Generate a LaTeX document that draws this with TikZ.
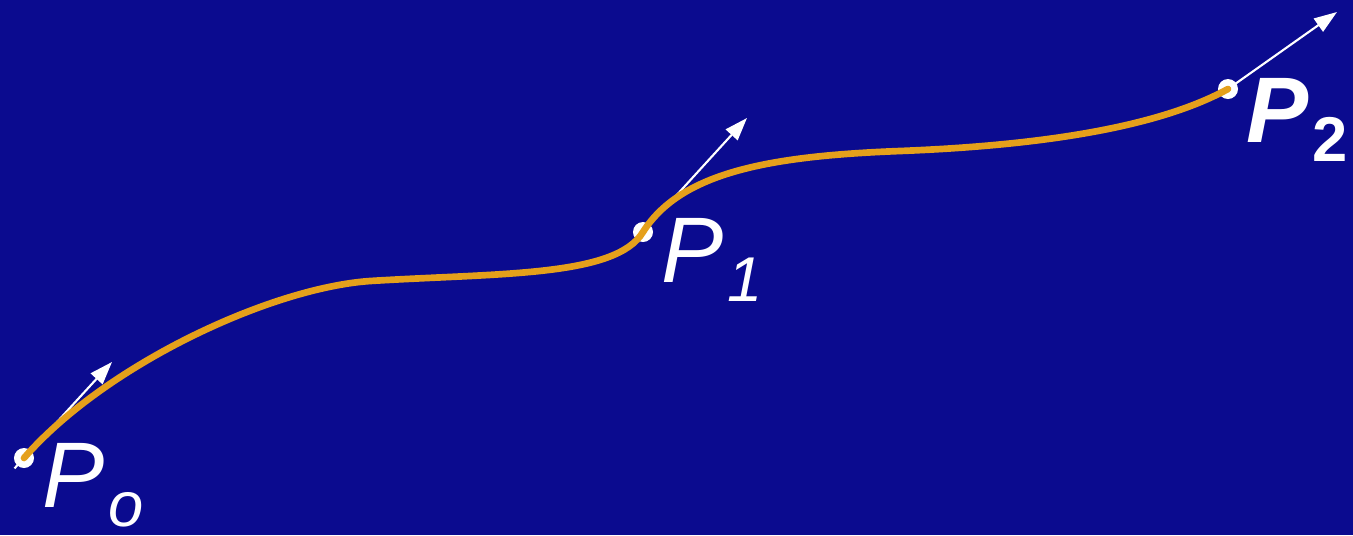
\documentclass[tikz,border=0pt]{standalone}
\usepackage{fontspec}
\setmainfont{Liberation Sans}
\usepackage{tikz}
\usepackage{xcolor}
\usetikzlibrary{arrows.meta,positioning}

\definecolor{bgblue}{RGB}{11,11,143}
\definecolor{splineorange}{RGB}{229,160,27}
\newcommand{\lowsub}[1]{\kern1pt\raisebox{-5.6pt}{\fontsize{18}{18}\selectfont #1}}

\begin{document}
\begin{tikzpicture}[
    x=0.01cm, y=-0.01cm,
    dot/.style={circle, fill=white, inner sep=0pt, minimum size=0.2cm},
    lbl/.style={anchor=base west, inner sep=0pt, text=white, font=\fontsize{26.5}{30}\selectfont\itshape},
    vec/.style={-{Triangle[length=6.5pt, width=4.5pt]}, white, line width=0.6pt},
    spline/.style={splineorange, line width=1.9pt, line cap=round}
]
\fill[bgblue] (0,0) rectangle (1353,535);
\node[dot] (p0) at (24,458) {};
\node[dot] (p1) at (643,232) {};
\node[dot] (p2) at (1228,89) {};
\node[lbl] (l0) at ([shift={(18,49)}]p0.center) {P\lowsub{o}};
\node[lbl] (l1) at ([shift={(18,50)}]p1.center) {P\lowsub{1}};
\node[lbl] (l2) at ([shift={(18,53)}]p2.center) {\bfseries P\lowsub{\upshape 2}};
\coordinate (t0) at (112,362);
\coordinate (t1) at (747,118);
\coordinate (t2) at (1337,12);
\coordinate (m1) at (370,281);
\coordinate (m2) at (900,151);
\draw[vec, shorten <=-4pt] (p0.center) -- (t0);
\draw[vec] (p1.center) -- (t1);
\draw[vec] (p2.center) -- (t2);
\draw[spline] (p0.center) .. controls (105,365) and (270,288) .. (m1)
    .. controls (500,273) and (616,277) .. (p1.center)
    .. controls (681,172) and (770,156) .. (m2)
    .. controls (1080,144) and (1175,118) .. (p2.center);
\end{tikzpicture}
\end{document}
